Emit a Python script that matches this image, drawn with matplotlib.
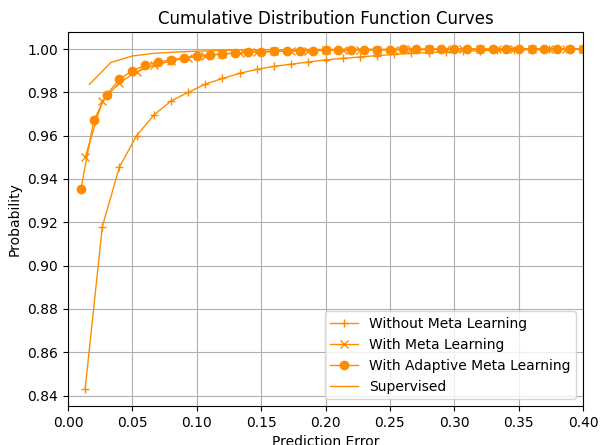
import numpy as np
import matplotlib
matplotlib.use("Agg")
import matplotlib.pyplot as plt

x_without = [k * 0.4 / 30 for k in range(1, 31)]
y_without = [0.843, 0.918, 0.9456, 0.960, 0.9695, 0.976, 0.980, 0.9838, 0.9864, 0.9888,
             0.9906, 0.992, 0.993, 0.994, 0.995, 0.9957, 0.9963, 0.997, 0.9975, 0.998,
             0.9984, 0.9987, 0.999, 0.9992, 0.9994, 0.9996, 0.9997, 0.9998, 0.9999, 1.0]

x_meta = [k * 0.4 / 30 for k in range(1, 31)]
y_meta = [0.950, 0.976, 0.9845, 0.9895, 0.9925, 0.9945, 0.996, 0.997, 0.9977, 0.9982,
          0.9986, 0.9989, 0.9991, 0.9993, 0.9994, 0.9995, 0.9996, 0.9997, 0.9997, 0.9998,
          0.9998, 0.9999, 0.9999, 0.9999, 0.9999, 1.0, 1.0, 1.0, 1.0, 1.0]

x_adaptive = [k * 0.01 for k in range(1, 41)]
y_adaptive = [0.9353, 0.967, 0.979, 0.986, 0.990, 0.9925, 0.994, 0.995, 0.996, 0.9967,
              0.9973, 0.9978, 0.9982, 0.9985, 0.9987, 0.9989, 0.9991, 0.9992, 0.9993, 0.9994,
              0.9995, 0.9996, 0.9996, 0.9997, 0.9997, 0.9998, 0.9998, 0.9998, 0.9999, 0.9999,
              0.9999, 0.9999, 1.0, 1.0, 1.0, 1.0, 1.0, 1.0, 1.0, 1.0]

x_sup = [k / 60 for k in range(1, 25)]
y_sup = [0.9837, 0.9938, 0.9968, 0.998, 0.9986, 0.999, 0.9993, 0.9995, 0.9996, 0.9997,
         0.9998, 0.9998, 0.9999, 0.9999, 0.9999, 1.0, 1.0, 1.0, 1.0, 1.0, 1.0, 1.0, 1.0, 1.0]

color = "darkorange"

fig = plt.figure(figsize=(6, 4.45), dpi=100)
ax = fig.add_axes([0.1133, 0.0876, 0.8584, 0.8404])
ax.plot(x_without, y_without, marker="+", color=color, linewidth=1, label="Without Meta Learning")
ax.plot(x_meta, y_meta, marker="x", color=color, linewidth=1, label="With Meta Learning")
ax.plot(x_adaptive, y_adaptive, marker="o", color=color, linewidth=1, label="With Adaptive Meta Learning")
ax.plot(x_sup, y_sup, color=color, linewidth=1, label="Supervised")
ax.set_xlim(0, 0.4)
ax.set_title("Cumulative Distribution Function Curves")
ax.set_xlabel("Prediction Error")
ax.set_ylabel("Probability")
ax.grid(True)
ax.legend(loc="lower right")
fig.savefig("out.png", dpi=100)
